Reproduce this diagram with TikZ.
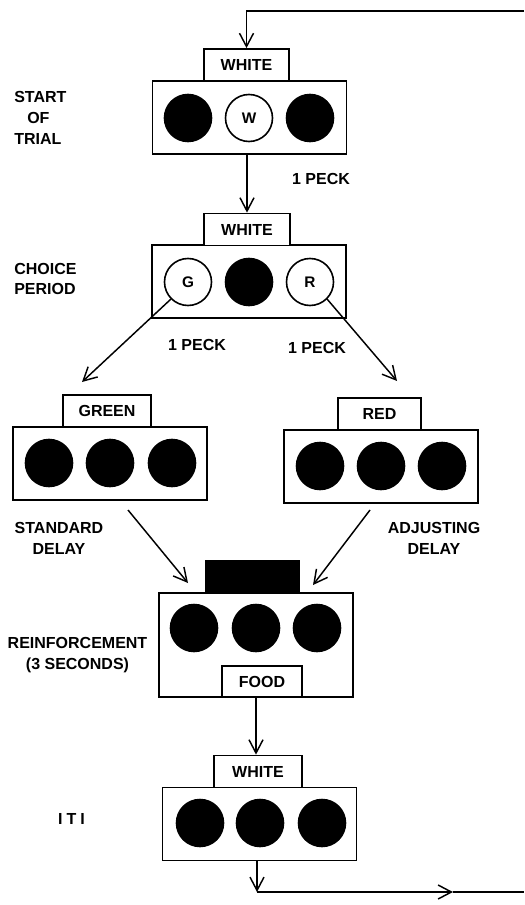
\documentclass[tikz,border=0pt]{standalone}
\usepackage{fontspec}
\setmainfont{Liberation Sans}
\usetikzlibrary{arrows.meta}
\begin{document}
\begin{tikzpicture}[x=0.75pt,y=-0.75pt,
  every node/.style={font=\bfseries\fontsize{12}{15.5}\selectfont},
  panel/.style={draw,line width=1.4pt,rectangle,inner sep=0pt,
    minimum width=194*0.75pt,minimum height=#1*0.75pt},
  tagbox/.style={draw,line width=1.3pt,fill=white,inner sep=0pt,
    minimum width=#1*0.75pt,minimum height=32*0.75pt},
  lamp/.style={circle,draw,line width=1.2pt,fill=white,inner sep=0pt,
    minimum size=47*0.75pt,font=\bfseries\fontsize{11.5}{13}\selectfont},
  lampoff/.style={lamp,fill=black},
  caption/.style={align=center,inner sep=0pt},
  flow/.style={line width=1.1pt,-{Straight Barb[length=10pt,width=10.5pt]}},
  wire/.style={line width=1.1pt}
]
\useasboundingbox (0,0) rectangle (524,905);

% ---- start of trial ----
\node[panel=73] (p1) at (249.5,117.5) {};
\node[tagbox=85] (t1) at (246.5,65) {WHITE};
\node[lampoff] (p1a) at (188,118) {};
\node[lamp] (p1b) at (249,118) {W};
\node[lampoff] (p1c) at (310,118) {};
\node[caption,anchor=west,align=left] (lstart) at (14,118)
  {START\\\hspace*{9.75pt}OF\\TRIAL};

% ---- choice period ----
\node[panel=73] (p2) at (249,281.5) {};
\node[tagbox=86] (t2) at (247,229.5) {WHITE};
\node[lamp] (p2g) at (188,282) {G};
\node[lampoff] (p2b) at (249,282) {};
\node[lamp] (p2r) at (310,282) {R};
\node[caption,anchor=west,align=left] (lchoice) at (14,279) {CHOICE\\PERIOD};

% ---- standard (green) side ----
\node[panel=73] (p3) at (110,463.5) {};
\node[tagbox=88] (t3) at (107,411) {GREEN};
\node[lampoff] (p3a) at (49,463) {};
\node[lampoff] (p3b) at (110,463) {};
\node[lampoff] (p3c) at (172,463) {};
\node[caption] (lstd) at (59,538.5) {STANDARD\\DELAY};

% ---- adjusting (red) side ----
\node[panel=73] (p4) at (381,466.5) {};
\node[tagbox=83] (t4) at (379.5,414) {RED};
\node[lampoff] (p4a) at (320,466) {};
\node[lampoff] (p4b) at (381,466) {};
\node[lampoff] (p4c) at (442,466) {};
\node[caption] (ladj) at (434,538.5) {ADJUSTING\\DELAY};

% ---- reinforcement ----
\node[panel=104] (p5) at (256,645) {};
\node[tagbox=93,fill=black] (t5) at (252.5,577) {};
\node[lampoff] (p5a) at (194,628) {};
\node[lampoff] (p5b) at (256,628) {};
\node[lampoff] (p5c) at (317,628) {};
\node[tagbox=80,minimum height=31*0.75pt] (food) at (262,681.5) {FOOD};
\node[caption] (lreinf) at (77.5,655) {REINFORCEMENT\\(3 SECONDS)};

% ---- inter-trial interval ----
\node[panel=73] (p6) at (259.5,824) {};
\node[tagbox=88] (t6) at (258,771.5) {WHITE};
\node[lampoff] (p6a) at (200,823) {};
\node[lampoff] (p6b) at (260,823) {};
\node[lampoff] (p6c) at (322,823) {};
\node[caption] (liti) at (71.5,819) {I\kern3pt T\kern3pt I};

% ---- peck labels ----
\node[caption] (peck0) at (321,179) {1 PECK};
\node[caption] (peckg) at (197,345) {1 PECK};
\node[caption] (peckr) at (317,348) {1 PECK};

% ---- connectors ----
\coordinate (loopin) at (524,11);
\draw[flow] (loopin) -| (t1.north);
\draw[flow] (t2.north |- p1.south) -- (t2.north);

\coordinate (gend) at (82,382);
\coordinate (rend) at (397,381);
\draw[flow] (p2g.225) -- (gend);
\draw[flow] (p2r.-45) -- (rend);

\coordinate (gout) at (128,510);
\coordinate (gin) at (188,583);
\coordinate (rout) at (370,510);
\coordinate (rin) at (313,585);
\draw[flow] (gout) -- (gin);
\draw[flow] (rout) -- (rin);

\draw[flow] (p5.south) -- (p5.south |- t6.north);

\coordinate (corner) at (257,892);
\coordinate (midr) at (453,892);
\coordinate (loopout) at (524,892);
\draw[flow] (corner |- p6.south) -- (corner);
\draw[flow] (corner) -- (midr);
\draw[wire] (midr) -- (loopout);
\end{tikzpicture}
\end{document}
